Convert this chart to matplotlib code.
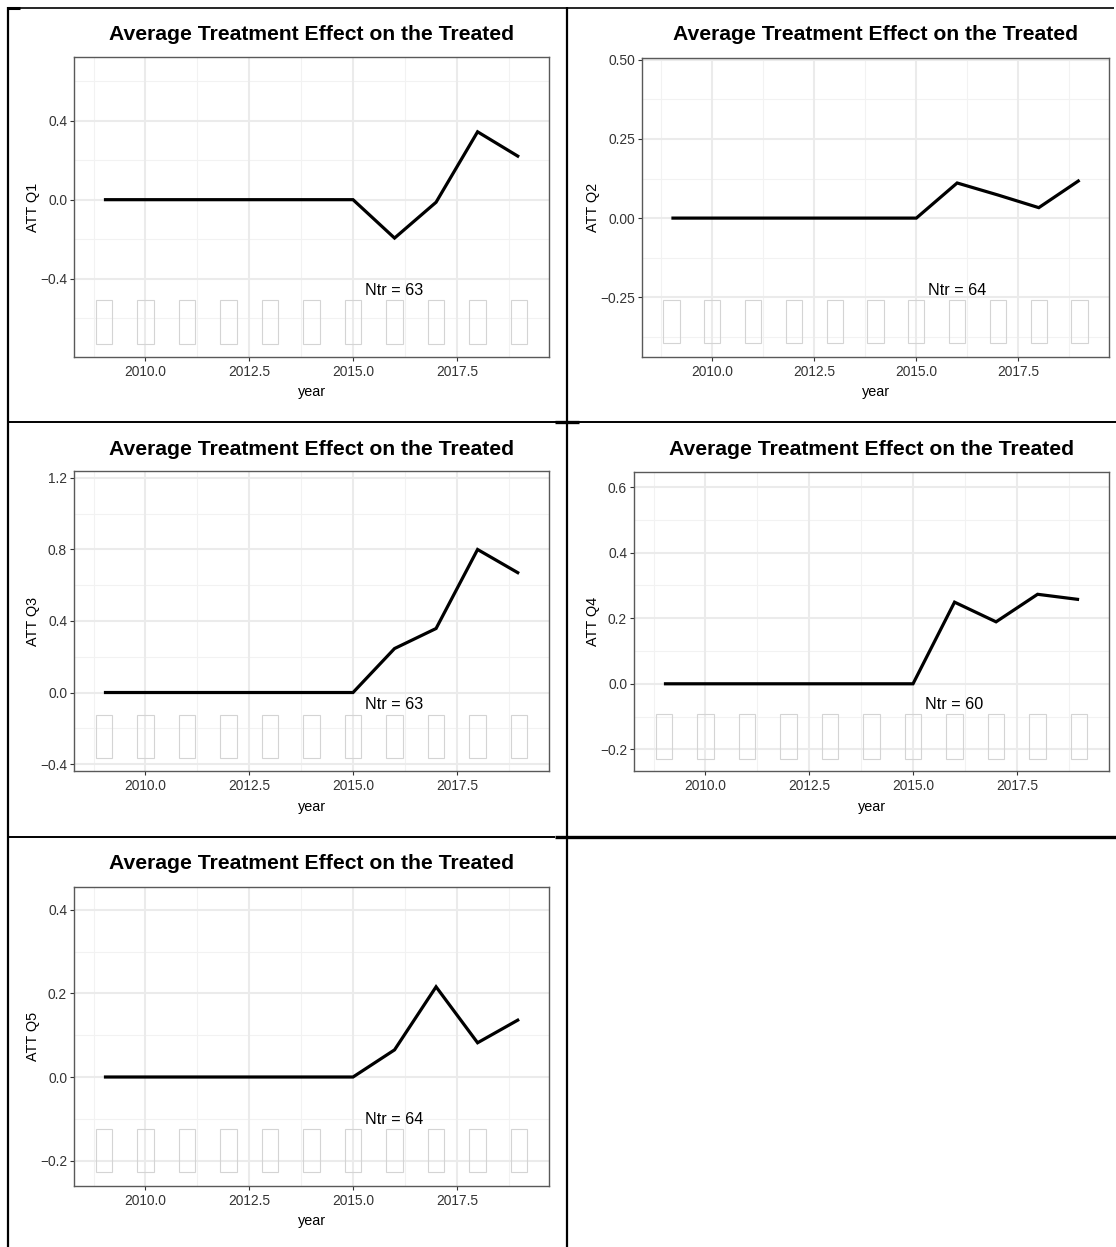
import matplotlib
matplotlib.use("Agg")
import matplotlib.pyplot as plt
from matplotlib.lines import Line2D
from matplotlib.ticker import FixedLocator, FuncFormatter
import numpy as np

plt.rcParams['font.family'] = ['Liberation Sans', 'DejaVu Sans']
plt.rcParams['axes.unicode_minus'] = True

# ---- data -----------------------------------------------------------------
years = [2009, 2010, 2011, 2012, 2013, 2014, 2015, 2016, 2017, 2018, 2019]

att_q1 = [0, 0, 0, 0, 0, 0, 0, -0.194, -0.013, 0.343, 0.216]
att_q2 = [0, 0, 0, 0, 0, 0, 0, 0.111, 0.073, 0.033, 0.120]
att_q3 = [0, 0, 0, 0, 0, 0, 0, 0.246, 0.358, 0.800, 0.666]
att_q4 = [0, 0, 0, 0, 0, 0, 0, 0.249, 0.189, 0.273, 0.257]
att_q5 = [0, 0, 0, 0, 0, 0, 0, 0.065, 0.216, 0.082, 0.138]

ylabels = ["ATT Q1", "ATT Q2", "ATT Q3", "ATT Q4", "ATT Q5"]
n_treated = [63, 64, 63, 60, 64]

# treated-count bars: bottom and top of each bar in data units
bar_bottom = [-0.727, -0.396, -0.369, -0.228, -0.228]
bar_top = [-0.508, -0.259, -0.123, -0.093, -0.125]

yticks = [
    [-0.4, 0.0, 0.4],
    [-0.25, 0.00, 0.25, 0.50],
    [-0.4, 0.0, 0.4, 0.8, 1.2],
    [-0.2, 0.0, 0.2, 0.4, 0.6],
    [-0.2, 0.0, 0.2, 0.4],
]
ylims = [(-0.795, 0.721), (-0.439, 0.506), (-0.439, 1.239), (-0.266, 0.646), (-0.261, 0.455)]
ytick_decimals = [1, 2, 1, 1, 1]
ntr_y = [-0.457, -0.228, -0.067, -0.063, -0.101]

xticks = [2010.0, 2012.5, 2015.0, 2017.5]
xlim = (2008.28, 2019.72)

title = "Average Treatment Effect on the Treated"

# ---- layout (pixels) --------------------------------------------------------
W, H = 1116, 1247
fig = plt.figure(figsize=(W / 100, H / 100), dpi=100)
fig.patch.set_facecolor('white')


def fx(x):
    return x / W


def fy(y):
    return 1 - y / H


def num_fmt(decimals):
    def f(v, pos):
        s = f"{v:.{decimals}f}"
        if s.startswith('-'):
            s = '\u2212' + s[1:]
        return s
    return FuncFormatter(f)


# panel boxes: left, top, right, bottom; title y; ylabel x; xlabel y
panels = [
    (74, 57, 549, 357, 34.5, 33, 392),
    (642, 58, 1109, 357, 34.5, 593, 392),
    (74, 471, 549, 771, 449.5, 33, 807),
    (634, 472, 1109, 771, 449.5, 593, 807),
    (74, 887, 549, 1186, 863.5, 33, 1221),
]
series = [att_q1, att_q2, att_q3, att_q4, att_q5]

grid_major = '#EBEBEB'
grid_minor = '#F2F2F2'
border_col = '#595959'

for i, (l, t, r, b, ty, ylx, xly) in enumerate(panels):
    ax = fig.add_axes([fx(l), fy(b), fx(r) - fx(l), fy(t) - fy(b)])
    ax.set_xlim(*xlim)
    ax.set_ylim(*ylims[i])

    # grid
    xmaj = xticks
    xmin = [2008.75, 2011.25, 2013.75, 2016.25, 2018.75]
    ymaj = yticks[i]
    step = ymaj[1] - ymaj[0]
    ymin = [v + step / 2 for v in [ymaj[0] - step] + ymaj]
    for xv in xmin:
        ax.axvline(xv, color=grid_minor, lw=0.8, zorder=0)
    for yv in ymin:
        ax.axhline(yv, color=grid_minor, lw=0.8, zorder=0)
    for xv in xmaj:
        ax.axvline(xv, color=grid_major, lw=1.5, zorder=0)
    for yv in ymaj:
        ax.axhline(yv, color=grid_major, lw=1.5, zorder=0)

    # treated-count bars
    heights = [bar_top[i] - bar_bottom[i]] * len(years)
    ax.bar(years, heights, bottom=bar_bottom[i], width=0.4, fill=False,
           edgecolor='#D4D4D4', linewidth=0.8, zorder=1)

    # ATT line
    ax.plot(years, series[i], color='black', lw=2.3, zorder=3,
            solid_capstyle='butt', solid_joinstyle='miter')

    ax.text(2016, ntr_y[i], f"Ntr = {n_treated[i]}", ha='center', va='center',
            fontsize=11.6, color='black', zorder=4)

    ax.xaxis.set_major_locator(FixedLocator(xticks))
    ax.xaxis.set_major_formatter(num_fmt(1))
    ax.yaxis.set_major_locator(FixedLocator(yticks[i]))
    ax.yaxis.set_major_formatter(num_fmt(ytick_decimals[i]))
    ax.tick_params(axis='both', length=3, width=0.8, color='#333333',
                   labelsize=9.9, labelcolor='#333333')
    ax.tick_params(axis='x', pad=3)
    ax.tick_params(axis='y', pad=2)
    for sp in ax.spines.values():
        sp.set_color(border_col)
        sp.set_linewidth(1.0)

    fig.text(fx((l + r) / 2), fy(ty), title, ha='center', va='center',
             fontsize=15.2, fontweight='bold', color='black')
    fig.text(fx(ylx), fy((t + b) / 2), ylabels[i], rotation=90,
             ha='center', va='center', fontsize=10.4, color='black')
    fig.text(fx((l + r) / 2), fy(xly), "year", ha='center', va='center',
             fontsize=10.4, color='black')

# ---- table frame -----------------------------------------------------------


def hline(y, x0, x1, lw):
    fig.add_artist(Line2D([fx(x0), fx(x1)], [fy(y), fy(y)], color='black',
                          lw=lw, solid_capstyle='butt'))


def vline(x, y0, y1, lw):
    fig.add_artist(Line2D([fx(x), fx(x)], [fy(y0), fy(y1)], color='black',
                          lw=lw, solid_capstyle='butt'))


hline(7.7, 7, 1114, 1.2)
hline(8.0, 7, 20, 2.2)
hline(422, 7, 1116, 1.4)
hline(422, 555, 579, 2.4)
hline(837, 7, 555, 1.4)
hline(837.2, 555, 1116, 2.4)
vline(8, 7, 1247, 1.6)
vline(567, 7, 1247, 1.6)

fig.savefig("out.png", dpi=100, facecolor='white')
